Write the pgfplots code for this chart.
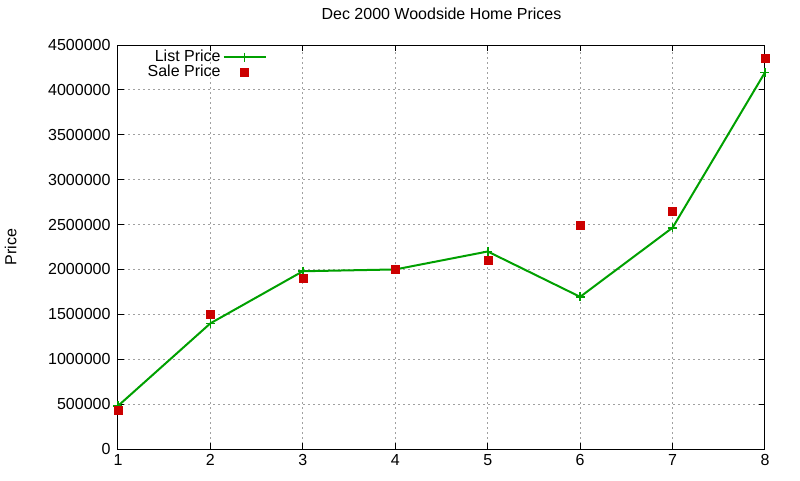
\documentclass[border=0pt]{standalone}
\usepackage{fontspec}
\setmainfont{Liberation Sans}
\usepackage{pgfplots}
\pgfplotsset{compat=1.18}
\definecolor{listgreen}{RGB}{0,160,0}
\definecolor{salered}{RGB}{204,0,0}
\definecolor{gridgray}{RGB}{160,160,160}
\pgfplotsset{
    longline legend/.style={legend image code/.code={
        \draw[mark repeat=2, mark phase=2, ##1] plot coordinates {(0pt,0pt) (21pt,0pt) (42pt,0pt)};}},
    dot legend/.style={legend image code/.code={
        \draw[##1] plot coordinates {(21pt,0pt)};}},
}
\begin{document}
\begin{tikzpicture}
\begin{axis}[
    at={(0pt,0pt)}, anchor=south west,
    scale only axis,
    width=647pt, height=404pt,
    xmin=1, xmax=8,
    ymin=0, ymax=4500000,
    xtick={1,2,...,8},
    ytick={0,500000,...,4500000},
    scaled y ticks=false,
    /pgf/number format/fixed,
    /pgf/number format/1000 sep={},
    /pgf/number format/assume math mode=true,
    font=\fontsize{16}{19}\selectfont,
    tick label style={font=\fontsize{16}{19}\selectfont},
    xticklabel style={yshift=-2pt},
    yticklabel style={xshift=-4pt},
    axis line style={black, line width=1pt},
    tick style={black, line width=1pt},
    major tick length=6pt,
    grid=major,
    major grid style={gridgray, line width=1pt, dash pattern=on 2pt off 3pt},
    title={Dec 2000 Woodside Home Prices},
    title style={at={(0.5,1)}, anchor=center, yshift=25pt, font=\fontsize{16}{19}\selectfont},
    ylabel={Price},
    ylabel style={at={(axis description cs:-0.166,0.5)}, anchor=center, rotate=0},
    legend style={at={(0.230,0.988)}, anchor=north east, draw=none, fill=none,
        inner sep=0pt, row sep=1pt, font=\fontsize{16}{19}\selectfont,
        nodes={inner ysep=0pt, text height=11pt, text depth=3pt}},
    legend cell align=right,
    legend plot pos=right,
]
\addplot[color=listgreen, line width=2pt, mark=+, mark size=4.5pt,
    mark options={line width=1.6pt}, longline legend]
coordinates {
    (1, 480000)
    (2, 1400000)
    (3, 1980000)
    (4, 2000000)
    (5, 2200000)
    (6, 1695000)
    (7, 2465000)
    (8, 4195000)
};
\addlegendentry{List Price}
\addplot[only marks, color=salered, mark=square*, mark size=4pt, dot legend]
coordinates {
    (1, 435000)
    (2, 1500000)
    (3, 1905000)
    (4, 2000000)
    (5, 2100000)
    (6, 2495000)
    (7, 2650000)
    (8, 4350000)
};
\addlegendentry{Sale Price}
\end{axis}
\useasboundingbox (-118pt,-31pt) rectangle (682pt,449pt);
\end{tikzpicture}
\end{document}
